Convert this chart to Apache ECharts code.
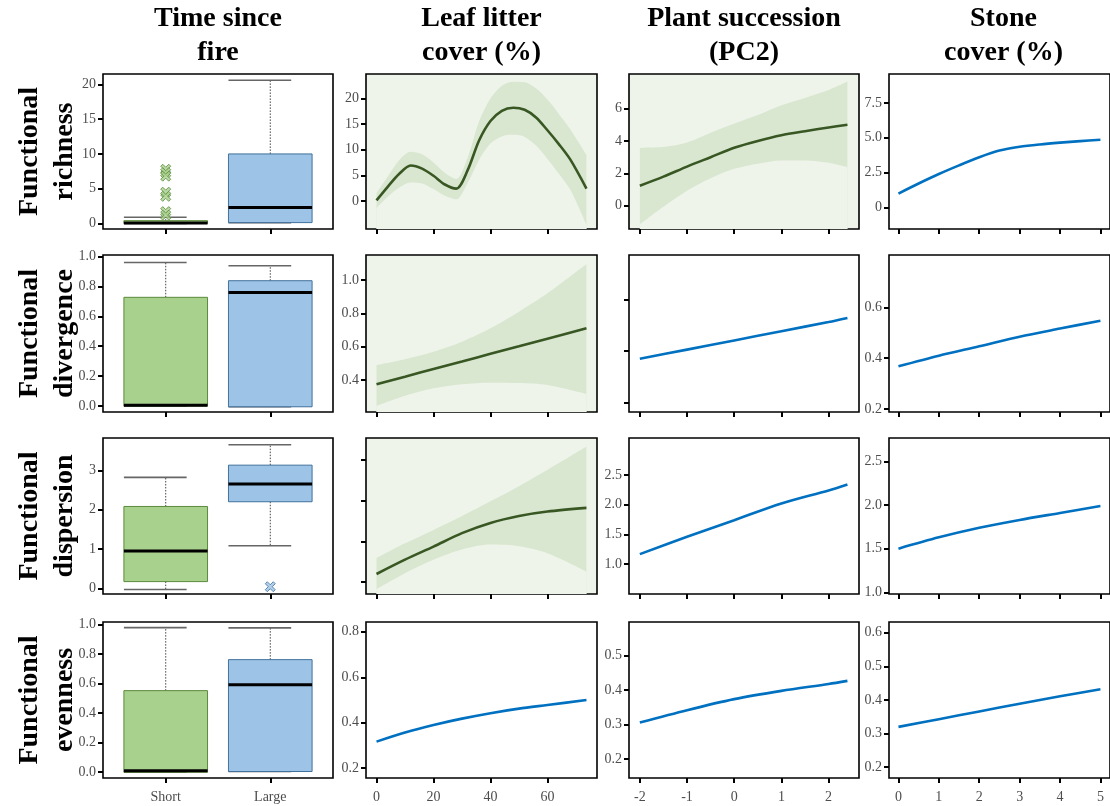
<!DOCTYPE html>
<html>
<head>
<meta charset="utf-8">
<script src="https://cdn.jsdelivr.net/npm/echarts@6/dist/echarts.min.js"></script>
<style>
  html, body { margin: 0; padding: 0; background: #fff; }
  #chart { width: 1110px; height: 806px; }
</style>
</head>
<body>
<div id="chart"></div>
<script>
  // labels
  const colNames = ['Time since\nfire', 'Leaf litter\ncover (%)', 'Plant succession\n(PC2)', 'Stone\ncover (%)'];
  const rowNames = ['Functional\nrichness', 'Functional\ndivergence', 'Functional\ndispersion', 'Functional\nevenness'];
  const fireCats = ['Short', 'Large'];

  // boxplot stats per row: [min, q1, median, q3, max]
  const fireShort = [
    [0, 0, 0.05, 0.4, 0.9],
    [0, 0, 0.005, 0.727, 0.96],
    [-0.03, 0.17, 0.95, 2.08, 2.82],
    [0, 0, 0.01, 0.553, 0.98]
  ];
  const fireLarge = [
    [0.12, 0.12, 2.3, 10.0, 20.6],
    [-0.005, -0.005, 0.76, 0.838, 0.938],
    [1.08, 2.2, 2.65, 3.13, 3.65],
    [0.005, 0.005, 0.593, 0.763, 0.978]
  ];
  const richShortOut = [7.8, 7.3, 6.8, 4.5, 3.9, 1.7, 1.2];
  const dispLargeOut = [0.04];

  // leaf litter cover
  const leafX = [0, 4, 8, 12, 16, 20, 24, 28, 32, 36, 40, 44, 48, 52, 56, 60, 64, 68, 73.7];
  const leafRich = [0.1, 2.8, 5.3, 6.9, 6.3, 4.9, 3.2, 2.4, 6.0, 11.8, 15.6, 17.6, 18.2, 17.8, 16.3, 13.8, 11.1, 8.1, 2.4];
  const leafRichHi = [1.5, 4.8, 8.0, 9.6, 9.1, 7.5, 5.5, 4.3, 8.5, 15.5, 20.0, 22.5, 23.3, 23.2, 22.0, 19.8, 17.0, 14.0, 9.0];
  const leafRichLo = [-1.4, 0.8, 2.6, 3.6, 3.4, 2.3, 1.0, 0.3, 3.5, 8.0, 11.2, 12.6, 12.9, 12.5, 10.8, 8.2, 5.3, 2.2, -4.7];
  const leafXc = [0, 10, 20, 30, 40, 50, 60, 73.7];
  const leafDiv = [0.375, 0.42, 0.466, 0.511, 0.557, 0.602, 0.648, 0.71];
  const leafDivHi = [0.49, 0.525, 0.57, 0.63, 0.71, 0.81, 0.92, 1.096];
  const leafDivLo = [0.244, 0.305, 0.35, 0.375, 0.384, 0.382, 0.37, 0.316];
  const leafDisp = [1.2, 1.55, 1.87, 2.2, 2.45, 2.62, 2.73, 2.82];
  const leafDispHi = [1.59, 1.95, 2.28, 2.62, 2.98, 3.35, 3.75, 4.32];
  const leafDispLo = [0.83, 1.22, 1.55, 1.8, 1.92, 1.88, 1.71, 1.26];
  const leafEven = [0.317, 0.357, 0.39, 0.418, 0.442, 0.462, 0.478, 0.50];

  // plant succession (PC2)
  const plantX = [-2, -1.5, -1, -0.5, 0, 0.5, 1, 1.5, 2, 2.4];
  const plantRich = [1.24, 1.8, 2.42, 3.0, 3.58, 4.0, 4.35, 4.6, 4.83, 5.0];
  const plantRichHi = [3.58, 3.62, 3.9, 4.5, 5.07, 5.6, 6.2, 6.65, 7.14, 7.66];
  const plantRichLo = [-1.14, -0.05, 0.93, 1.7, 2.28, 2.6, 2.8, 2.8, 2.65, 2.38];
  const plantXc = [-2, -1, 0, 1, 2, 2.4];
  const plantDiv = [0.385, 0.403, 0.421, 0.439, 0.457, 0.465];
  const plantDisp = [1.17, 1.46, 1.74, 2.02, 2.24, 2.34];
  const plantEven = [0.306, 0.342, 0.374, 0.398, 0.418, 0.427];

  // stone cover
  const stoneX = [0, 0.5, 1, 1.5, 2, 2.5, 3, 3.5, 4, 4.5, 5];
  const stoneRich = [1.0, 1.72, 2.4, 3.02, 3.6, 4.08, 4.35, 4.52, 4.65, 4.76, 4.86];
  const stoneXc = [0, 1, 2, 3, 4, 5];
  const stoneDiv = [0.368, 0.41, 0.447, 0.485, 0.517, 0.548];
  const stoneDisp = [1.5, 1.63, 1.74, 1.83, 1.91, 1.99];
  const stoneEven = [0.32, 0.343, 0.366, 0.389, 0.411, 0.432];

  // tick values and labels
  const xTicks = [[1, 2], [0, 20, 40, 60], [-2, -1, 0, 1, 2], [0, 1, 2, 3, 4, 5]];
  const xTickText = [fireCats, ['0', '20', '40', '60'], ['-2', '-1', '0', '1', '2'], ['0', '1', '2', '3', '4', '5']];
  const yTicks = [
    [[0, 5, 10, 15, 20], [0, 5, 10, 15, 20], [0, 2, 4, 6], [0, 2.5, 5, 7.5]],
    [[0, 0.2, 0.4, 0.6, 0.8, 1], [0.4, 0.6, 0.8, 1], [0.3, 0.4, 0.5], [0.2, 0.4, 0.6]],
    [[0, 1, 2, 3], [1, 2, 3, 4], [1, 1.5, 2, 2.5], [1, 1.5, 2, 2.5]],
    [[0, 0.2, 0.4, 0.6, 0.8, 1], [0.2, 0.4, 0.6, 0.8], [0.2, 0.3, 0.4, 0.5], [0.2, 0.3, 0.4, 0.5, 0.6]]
  ];
  const yTickText = [
    [['0', '5', '10', '15', '20'], ['0', '5', '10', '15', '20'], ['0', '2', '4', '6'], ['0', '2.5', '5.0', '7.5']],
    [['0.0', '0.2', '0.4', '0.6', '0.8', '1.0'], ['0.4', '0.6', '0.8', '1.0'], null, ['0.2', '0.4', '0.6']],
    [['0', '1', '2', '3'], null, ['1.0', '1.5', '2.0', '2.5'], ['1.0', '1.5', '2.0', '2.5']],
    [['0.0', '0.2', '0.4', '0.6', '0.8', '1.0'], ['0.2', '0.4', '0.6', '0.8'], ['0.2', '0.3', '0.4', '0.5'], ['0.2', '0.3', '0.4', '0.5', '0.6']]
  ];

  // panel layout
  const panelLeft = [103, 366, 629, 889];
  const panelWidth = [230, 231, 230, 229];
  const panelTop = [74, 255, 438, 622];
  const panelHeight = [155, 157, 156, 156];
  const xRange = [[0.4, 2.6], [-3.69, 77.4], [-2.23, 2.645], [-0.234, 5.237]];
  const yRange = [
    [[-0.8, 21.5], [-5.5, 24.8], [-1.43, 8.13], [-1.54, 9.57]],
    [[-0.04, 1.01], [0.208, 1.15], [0.281, 0.588], [0.188, 0.807]],
    [[-0.145, 3.82], [0.71, 4.53], [0.5, 3.12], [0.98, 2.77]],
    [[-0.039, 1.018], [0.157, 0.843], [0.145, 0.598], [0.168, 0.632]]
  ];

  const serif = "'Liberation Serif', 'DejaVu Serif', serif";
  const greenBg = '#eff4eb';
  const bandColor = '#d9e7d1';
  const darkGreen = '#385723';
  const blue = '#0070c0';
  const boxStyle = {
    1: {fill: '#a9d18e', stroke: '#5b8a3a'},
    2: {fill: '#9dc3e6', stroke: '#41719c'}
  };
  const xMark = 'path://M0,2 L2,0 L5,3 L8,0 L10,2 L7,5 L10,8 L8,10 L5,7 L2,10 L0,8 L3,5 Z';

  let chart = echarts.init(document.getElementById('chart'));

  let grids = [], xAxes = [], yAxes = [], series = [];

  function pick(ticks, texts) {
    return function (v) {
      for (let k = 0; k < ticks.length; k++) {
        if (Math.abs(ticks[k] - v) < 1e-6) return texts[k];
      }
      return '';
    };
  }

  function line(idx, xs, ys, color) {
    series.push({
      type: 'line', xAxisIndex: idx, yAxisIndex: idx,
      data: xs.map((v, k) => [v, ys[k]]),
      smooth: 0.3, symbol: 'none', z: 4,
      lineStyle: {color: color, width: 2.6}, silent: true
    });
  }

  // 置信带: upper area painted in band colour, lower area repainted with panel background
  function band(idx, xs, lo, hi) {
    series.push({
      type: 'line', xAxisIndex: idx, yAxisIndex: idx,
      data: xs.map((v, k) => [v, hi[k]]),
      smooth: 0.3, symbol: 'none', z: 2,
      lineStyle: {opacity: 0}, areaStyle: {color: bandColor, opacity: 1, origin: 'start'}, silent: true
    });
    series.push({
      type: 'line', xAxisIndex: idx, yAxisIndex: idx,
      data: xs.map((v, k) => [v, lo[k]]),
      smooth: 0.3, symbol: 'none', z: 3,
      lineStyle: {opacity: 0}, areaStyle: {color: greenBg, opacity: 1, origin: 'start'}, silent: true
    });
  }

  /*箱线图*/
  function renderBox(params, api) {
    let x = api.value(0);
    let mn = api.value(1), q1 = api.value(2), md = api.value(3), q3 = api.value(4), mx = api.value(5);
    let hw = 0.4;
    let st = boxStyle[x];
    let c = api.coord([x, 0])[0];
    let xl = api.coord([x - hw, 0])[0], xr = api.coord([x + hw, 0])[0];
    let capR = api.coord([x + hw * 0.5, 0])[0];
    let yMin = api.coord([x, mn])[1], yQ1 = api.coord([x, q1])[1], yMd = api.coord([x, md])[1];
    let yQ3 = api.coord([x, q3])[1], yMax = api.coord([x, mx])[1];
    let dash = {stroke: '#444', lineWidth: 1, lineDash: [1.5, 1.5]};
    let cap = {stroke: '#666', lineWidth: 1.6};
    return {
      type: 'group',
      children: [
        {type: 'line', shape: {x1: c, y1: yQ3, x2: c, y2: yMax}, style: dash},
        {type: 'line', shape: {x1: c, y1: yQ1, x2: c, y2: yMin}, style: dash},
        {type: 'line', shape: {x1: xl, y1: yMax, x2: capR, y2: yMax}, style: cap},
        {type: 'line', shape: {x1: xl, y1: yMin, x2: capR, y2: yMin}, style: cap},
        {type: 'rect', shape: {x: xl, y: yQ3, width: xr - xl, height: yQ1 - yQ3},
          style: {fill: st.fill, stroke: st.stroke, lineWidth: 1}},
        {type: 'line', shape: {x1: xl, y1: yMd, x2: xr, y2: yMd}, style: {stroke: '#000', lineWidth: 3}}
      ]
    };
  }

  for (let r = 0; r < 4; r++) {
    for (let c = 0; c < 4; c++) {
      let idx = r * 4 + c;
      let green = (c === 1 && r < 3) || (c === 2 && r === 0);
      grids.push({
        left: panelLeft[c], top: panelTop[r], width: panelWidth[c], height: panelHeight[r],
        show: true, borderColor: '#000', borderWidth: 1.6,
        backgroundColor: green ? greenBg : '#fff'
      });
      xAxes.push({
        type: 'value', gridIndex: idx, min: xRange[c][0], max: xRange[c][1],
        axisLine: {show: false, onZero: false},
        splitLine: {show: false},
        axisTick: {show: true, customValues: xTicks[c], length: 5, lineStyle: {color: '#000', width: 2}},
        axisLabel: {
          show: r === 3, customValues: xTicks[c], margin: 12,
          color: '#4d4d4d', fontFamily: serif, fontSize: 14,
          formatter: pick(xTicks[c], xTickText[c])
        }
      });
      let yt = yTicks[r][c];
      let ytx = yTickText[r][c];
      yAxes.push({
        type: 'value', gridIndex: idx, min: yRange[r][c][0], max: yRange[r][c][1],
        axisLine: {show: false, onZero: false},
        splitLine: {show: false},
        axisTick: {show: true, customValues: yt, length: 5, lineStyle: {color: '#000', width: 2}},
        axisLabel: {
          show: !!ytx, customValues: yt, margin: 7,
          color: '#4d4d4d', fontFamily: serif, fontSize: 14,
          formatter: ytx ? pick(yt, ytx) : ''
        }
      });
    }
  }

  // column 1: boxplots
  for (let r = 0; r < 4; r++) {
    let idx = r * 4;
    series.push({
      type: 'custom', xAxisIndex: idx, yAxisIndex: idx, z: 3, silent: true,
      renderItem: renderBox,
      encode: {x: 0, y: [1, 2, 3, 4, 5]},
      data: [[1].concat(fireShort[r]), [2].concat(fireLarge[r])]
    });
  }
  series.push({
    type: 'scatter', xAxisIndex: 0, yAxisIndex: 0, z: 5, silent: true,
    symbol: xMark, symbolSize: 10,
    itemStyle: {color: boxStyle[1].fill, borderColor: boxStyle[1].stroke, borderWidth: 1},
    data: richShortOut.map(v => [1, v])
  });
  series.push({
    type: 'scatter', xAxisIndex: 8, yAxisIndex: 8, z: 5, silent: true,
    symbol: xMark, symbolSize: 10,
    itemStyle: {color: boxStyle[2].fill, borderColor: boxStyle[2].stroke, borderWidth: 1},
    data: dispLargeOut.map(v => [2, v])
  });

  // column 2: leaf litter
  band(1, leafX, leafRichLo, leafRichHi);
  line(1, leafX, leafRich, darkGreen);
  band(5, leafXc, leafDivLo, leafDivHi);
  line(5, leafXc, leafDiv, darkGreen);
  band(9, leafXc, leafDispLo, leafDispHi);
  line(9, leafXc, leafDisp, darkGreen);
  line(13, leafXc, leafEven, blue);

  // column 3: plant succession
  band(2, plantX, plantRichLo, plantRichHi);
  line(2, plantX, plantRich, darkGreen);
  line(6, plantXc, plantDiv, blue);
  line(10, plantXc, plantDisp, blue);
  line(14, plantXc, plantEven, blue);

  // column 4: stone cover
  line(3, stoneX, stoneRich, blue);
  line(7, stoneXc, stoneDiv, blue);
  line(11, stoneXc, stoneDisp, blue);
  line(15, stoneXc, stoneEven, blue);

  // titles
  let texts = [];
  colNames.forEach((t, c) => {
    texts.push({
      type: 'text', x: panelLeft[c] + panelWidth[c] / 2, y: 2,
      style: {text: t, fontFamily: serif, fontWeight: 'bold', fontSize: 28, lineHeight: 34,
        fill: '#000', align: 'center', verticalAlign: 'top'}
    });
  });
  rowNames.forEach((t, r) => {
    texts.push({
      type: 'text', x: 47, y: panelTop[r] + panelHeight[r] / 2, rotation: Math.PI / 2,
      style: {text: t, fontFamily: serif, fontWeight: 'bold', fontSize: 28, lineHeight: 35,
        fill: '#000', align: 'center', verticalAlign: 'middle'}
    });
  });

  chart.setOption({
    animation: false,
    grid: grids,
    xAxis: xAxes,
    yAxis: yAxes,
    series: series,
    graphic: {elements: texts}
  });
</script>
</body>
</html>
